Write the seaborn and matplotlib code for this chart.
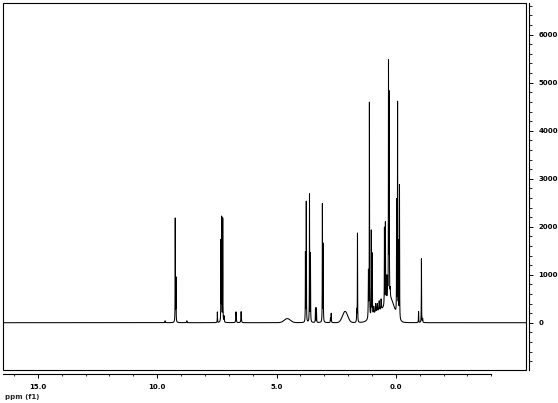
import numpy as np
import pandas as pd
import matplotlib
matplotlib.use('Agg')
import matplotlib.pyplot as plt
import seaborn as sns
from matplotlib.patches import Rectangle
from matplotlib.ticker import FixedLocator

# 1H NMR spectrum, peaks
# sharp lines: chemical shift (ppm), intensity, half width (ppm)
linea_ppm = [9.67, 9.245, 9.215, 8.76,
             7.48, 7.33, 7.30, 7.255, 7.20, 6.70, 6.485,
             3.79, 3.755, 3.62, 3.58, 3.37, 3.33, 3.08, 3.045, 2.74, 2.71,
             1.64, 1.61, 1.15, 1.11, 1.03, 0.99,
             0.93, 0.85, 0.78, 0.70, 0.62,
             0.48, 0.44, 0.40, 0.35, 0.31, 0.28, 0.24,
             -0.03, -0.07, -0.11, -0.15,
             -0.95, -1.07, -1.12]
linea_int = [40, 2160, 900, 40,
             220, 1670, 2150, 2150, 120, 225, 230,
             1430, 2500, 2660, 1420, 300, 300, 2450, 1610, 100, 190,
             250, 1850, 980, 4470, 1770, 1275,
             150, 180, 160, 200, 220,
             1600, 1660, 500, 400, 4850, 4180, 150,
             2340, 4430, 1530, 2780,
             230, 1330, 80]
linea_anc = [0.01, 0.005, 0.005, 0.01,
             0.005, 0.005, 0.005, 0.005, 0.008, 0.01, 0.01,
             0.005, 0.005, 0.005, 0.005, 0.006, 0.006, 0.005, 0.005, 0.008, 0.006,
             0.008, 0.005, 0.008, 0.005, 0.005, 0.005,
             0.01, 0.01, 0.01, 0.01, 0.01,
             0.005, 0.005, 0.006, 0.006, 0.005, 0.005, 0.006,
             0.005, 0.005, 0.005, 0.005,
             0.006, 0.005, 0.008]

# broad humps: centre (ppm), intensity, sigma (ppm)
loma_ppm = [4.55, 2.13, 0.75, 0.25]
loma_int = [85, 235, 220, 480]
loma_sig = [0.13, 0.11, 0.25, 0.19]

y_major = [0, 1000, 2000, 3000, 4000, 5000, 6000]
x_major = [15.0, 10.0, 5.0, 0.0]

# eje de desplazamiento quimico (de izquierda a derecha decreciente)
ppm = np.linspace(16.45, -5.45, 60000)
intensidad = np.zeros_like(ppm)
for c, h, w in zip(linea_ppm, linea_int, linea_anc):
    intensidad += h * w**2 / ((ppm - c)**2 + w**2)
for c, h, s in zip(loma_ppm, loma_int, loma_sig):
    intensidad += h * np.exp(-(ppm - c)**2 / (2 * s**2))

df = pd.DataFrame({'ppm': ppm, 'intensidad': intensidad})

sns.set_style('white')
plt.rcParams['font.family'] = ['DejaVu Sans']

fig = plt.figure(figsize=(5.58, 4.03), dpi=100)
ax = fig.add_axes([0.0059, 0.0819, 0.9367, 0.9099])

sns.lineplot(data=df, x='ppm', y='intensidad', ax=ax, color='black',
             linewidth=0.75, estimator=None, sort=False)

ax.set_xlim(16.45, -5.45)
ax.set_ylim(-985, 6654)

# marco del espectro
ax.add_patch(Rectangle((0, 0), 1, 1, transform=ax.transAxes, fill=False,
                       edgecolor='black', linewidth=0.8, clip_on=False))

for s in ['top', 'left']:
    ax.spines[s].set_visible(False)
ax.spines['bottom'].set_position(('outward', 2.9))
ax.spines['right'].set_position(('outward', 2.4))
ax.spines['bottom'].set_bounds(16.45, -4.0)
for s in ['bottom', 'right']:
    ax.spines[s].set_visible(True)
    ax.spines[s].set_color('black')
    ax.spines[s].set_linewidth(0.8)

ax.yaxis.tick_right()
ax.xaxis.set_major_locator(FixedLocator(x_major))
ax.xaxis.set_minor_locator(FixedLocator(np.arange(16, -5, -1)))
ax.yaxis.set_major_locator(FixedLocator(y_major))
ax.yaxis.set_minor_locator(FixedLocator(np.arange(-800, 6700, 200)))
ax.set_xticklabels([f'{v:.1f}' for v in x_major])
ax.set_yticklabels([str(v) for v in y_major])

ax.tick_params(axis='x', which='major', direction='out', length=2.9, width=0.7,
               pad=4, labelsize=5, colors='black', bottom=True)
ax.tick_params(axis='x', which='minor', direction='out', length=1.5, width=0.7,
               bottom=True)
ax.tick_params(axis='y', which='major', direction='out', length=2.9, width=0.7,
               pad=3.6, labelsize=5, colors='black', right=True, left=False)
ax.tick_params(axis='y', which='minor', direction='out', length=2.0, width=0.7,
               right=True, left=False)
for lab in ax.get_xticklabels() + ax.get_yticklabels():
    lab.set_fontweight('bold')

ax.set_xlabel('')
ax.set_ylabel('')
fig.text(0.009, 1 - 397 / 403, 'ppm (f1)', fontsize=5, fontweight='bold',
         va='center', ha='left')

fig.savefig('out.png', dpi=100)
